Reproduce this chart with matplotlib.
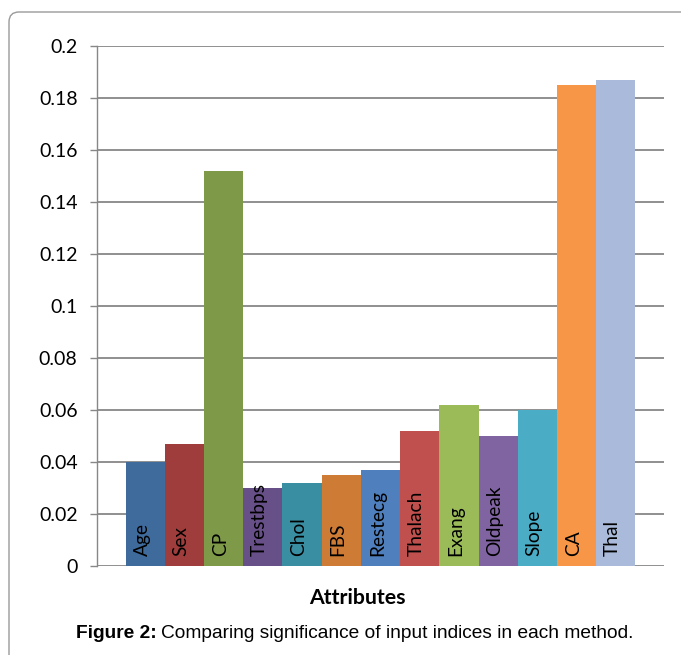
import numpy as np
import matplotlib
matplotlib.use('Agg')
import matplotlib.pyplot as plt
from matplotlib.patches import FancyBboxPatch

# 各属性的重要性
attributes = ['Age', 'Sex', 'CP', 'Trestbps', 'Chol', 'FBS', 'Restecg',
              'Thalach', 'Exang', 'Oldpeak', 'Slope', 'CA', 'Thal']
significance = [0.040, 0.047, 0.152, 0.030, 0.032, 0.035, 0.037,
                0.052, 0.062, 0.050, 0.060, 0.185, 0.187]
bar_colors = ['#3F6A9C', '#9E3D3B', '#7E9A49', '#674F88', '#3A8EA2', '#CE7B36', '#4F80BD',
              '#C0504D', '#9BBB59', '#8064A2', '#4BACC6', '#F79646', '#AABADA']
yticks = [0, 0.02, 0.04, 0.06, 0.08, 0.1, 0.12, 0.14, 0.16, 0.18, 0.2]
ytick_labels = ['0', '0.02', '0.04', '0.06', '0.08', '0.1', '0.12', '0.14', '0.16', '0.18', '0.2']

plt.rcParams['font.family'] = ['Lato', 'DejaVu Sans']
grid_color = '#878787'

fig = plt.figure(figsize=(6.81, 6.55), dpi=100)
ax = fig.add_axes([0.1424, 0.1359, 0.8326, 0.7939])

x = np.arange(len(attributes))
ax.bar(x, significance, width=1.0, color=bar_colors, zorder=3)

# 柱内竖排标签
for xi, name in zip(x, attributes):
    ax.text(xi - 0.08, 0.0038, name, rotation=90, ha='center', va='bottom',
            fontsize=13.8, color='black', zorder=4)

ax.set_xlim(-0.5 - 0.73, len(attributes) - 0.5 + 0.73)
ax.set_ylim(0, 0.2)
ax.set_yticks(yticks)
ax.set_yticklabels(ytick_labels, fontsize=14)
ax.set_xticks([])
ax.yaxis.grid(True, color=grid_color, linewidth=1.3, zorder=0)
ax.set_axisbelow(True)
ax.tick_params(axis='y', length=5, width=1, color=grid_color, pad=9)

for side in ['top', 'right', 'bottom']:
    ax.spines[side].set_visible(False)
ax.spines['left'].set_color(grid_color)
ax.spines['left'].set_linewidth(1)

fig.text(357 / 681, 1 - 598 / 655, 'Attributes', ha='center', va='center',
         fontsize=15.3, fontweight='bold')

# 图注
cap_y = 1 - 634 / 655
t1 = fig.text(76 / 681, cap_y, 'Figure 2:', ha='left', va='center',
              fontsize=13.8, fontweight='bold', family='Liberation Sans')
fig.canvas.draw()
bb = t1.get_window_extent()
fig.text((bb.x1 + 4) / 681, cap_y, 'Comparing significance of input indices in each method.',
         ha='left', va='center', fontsize=13.8, family='Liberation Sans')

# 外框
frame = FancyBboxPatch((0.09, -0.5), 7.5, 6.55 - 0.12 + 0.5,
                       boxstyle='round,pad=0,rounding_size=0.1',
                       transform=fig.dpi_scale_trans, facecolor='none',
                       edgecolor='#9a9a9a', linewidth=1)
fig.patches.append(frame)

fig.savefig('out.png', dpi=100)
